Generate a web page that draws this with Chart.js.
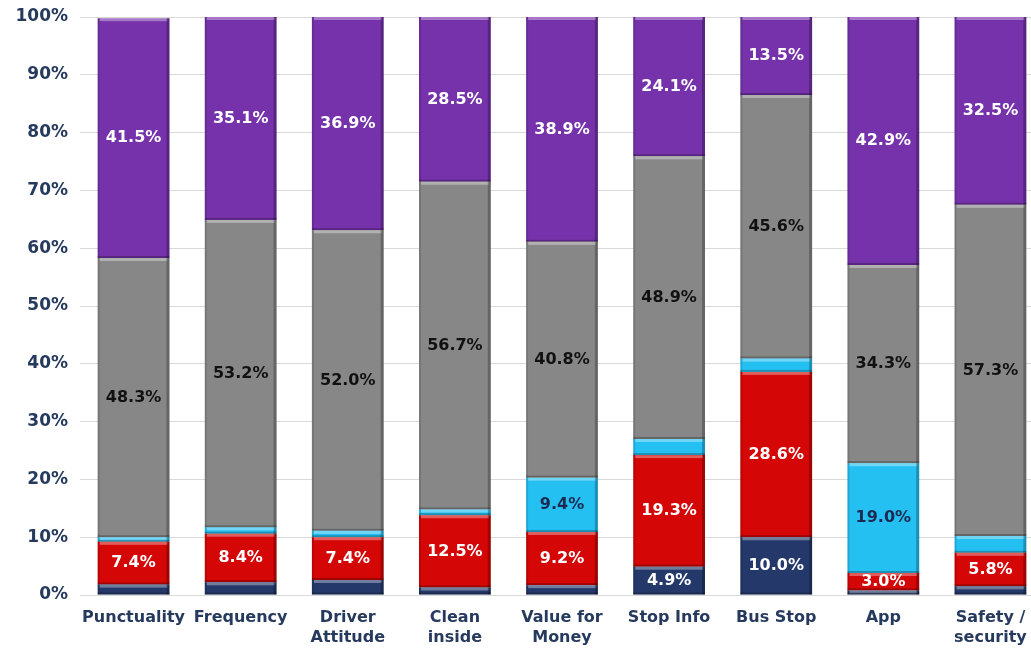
<!DOCTYPE html>
<html>
<head>
<meta charset="utf-8">
<script src="https://cdn.jsdelivr.net/npm/chart.js@4"></script>
<style>
  html, body { margin: 0; padding: 0; background: #fff; overflow: hidden; }
</style>
</head>
<body>
<canvas id="myChart" width="1045" height="649"></canvas>
<script>
const categories = ['Punctuality', 'Frequency', ['Driver', 'Attitude'], ['Clean', 'inside'],
  ['Value for', 'Money'], 'Stop Info', 'Bus Stop', 'App', ['Safety /', 'security']];

const navyValues   = [1.8, 2.2, 2.6, 1.3, 1.7, 4.9, 10.0, 0.8, 1.5];
const redValues    = [7.4, 8.4, 7.4, 12.5, 9.2, 19.3, 28.6, 3.0, 5.8];
const cyanValues   = [0.8, 1.1, 1.1, 1.0, 9.4, 2.8, 2.3, 19.0, 2.9];
const grayValues   = [48.3, 53.2, 52.0, 56.7, 40.8, 48.9, 45.6, 34.3, 57.3];
const purpleValues = [41.5, 35.1, 36.9, 28.5, 38.9, 24.1, 13.5, 42.9, 32.5];

const axisColor = '#263a5e';
const labelFont = { family: 'DejaVu Sans', weight: 'bold', size: 16, lineHeight: 1.25 };

// draws the value in the middle of each segment
const segmentLabels = {
  id: 'segmentLabels',
  afterDatasetsDraw(chart) {
    const ctx = chart.ctx;
    ctx.save();
    ctx.font = 'bold 16px "DejaVu Sans"';
    ctx.textAlign = 'center';
    ctx.textBaseline = 'middle';
    chart.data.datasets.forEach((ds, i) => {
      const meta = chart.getDatasetMeta(i);
      meta.data.forEach((bar, j) => {
        const v = ds.data[j];
        if (v < 3) return;
        ctx.fillStyle = ds.labelColor;
        ctx.fillText(v.toFixed(1) + '%', bar.x, (bar.y + bar.base) / 2);
      });
    });
    ctx.restore();
  }
};

// light top edge and darker sides for the bevelled look
const bevel = {
  id: 'bevel',
  afterDatasetsDraw(chart) {
    const ctx = chart.ctx;
    ctx.save();
    chart.data.datasets.forEach((ds, i) => {
      chart.getDatasetMeta(i).data.forEach(bar => {
        const w = bar.width;
        const left = bar.x - w / 2;
        const top = Math.min(bar.y, bar.base);
        const h = Math.abs(bar.base - bar.y);
        if (h < 1) return;
        ctx.fillStyle = 'rgba(255,255,255,0.35)';
        ctx.fillRect(left + 2, top, w - 4, Math.min(3, h));
        ctx.fillStyle = 'rgba(0,0,0,0.25)';
        ctx.fillRect(left + w - 3, top, 3, h);
        ctx.fillRect(left, top + h - Math.min(2, h), w, Math.min(2, h));
        ctx.fillStyle = 'rgba(0,0,0,0.12)';
        ctx.fillRect(left, top, 2, h);
      });
    });
    ctx.restore();
  }
};

const ctx = document.getElementById('myChart').getContext('2d');

new Chart(ctx, {
  type: 'bar',
  data: {
    labels: categories,
    datasets: [
      { label: 'Very poor', data: navyValues, backgroundColor: '#24396a', labelColor: '#ffffff' },
      { label: 'Poor', data: redValues, backgroundColor: '#d40606', labelColor: '#ffffff' },
      { label: 'Neutral', data: cyanValues, backgroundColor: '#25c0f2', labelColor: '#1a2a50' },
      { label: 'Good', data: grayValues, backgroundColor: '#878787', labelColor: '#111111' },
      { label: 'Very good', data: purpleValues, backgroundColor: '#7532aa', labelColor: '#ffffff' }
    ]
  },
  options: {
    responsive: false,
    animation: false,
    layout: { padding: { top: 17, right: 1, left: 0, bottom: 0 } },
    datasets: { bar: { barPercentage: 0.67, categoryPercentage: 1 } },
    plugins: {
      legend: { display: false },
      tooltip: { enabled: false }
    },
    scales: {
      x: {
        stacked: true,
        grid: { display: false, drawTicks: false },
        border: { display: false },
        ticks: { color: axisColor, font: labelFont, padding: 13, maxRotation: 0, autoSkip: false },
        afterFit(scale) { scale.height = 54; }
      },
      y: {
        stacked: true,
        min: 0,
        max: 100,
        grid: { color: '#d9d9d9', drawTicks: false },
        border: { display: false },
        ticks: {
          stepSize: 10,
          color: axisColor,
          font: { family: 'DejaVu Sans', weight: 'bold', size: 17 },
          padding: 12,
          callback: v => v + '%'
        },
        afterFit(scale) {
          scale.width = 80;
          scale.paddingTop = 0;
          scale.paddingBottom = 0;
        }
      }
    }
  },
  plugins: [bevel, segmentLabels]
});
</script>
</body>
</html>
